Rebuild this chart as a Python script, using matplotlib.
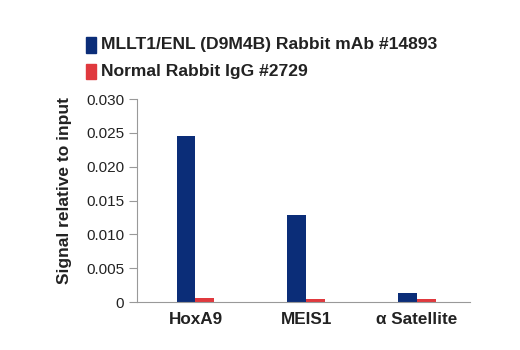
import numpy as np
import matplotlib
matplotlib.use("Agg")
from matplotlib import pyplot as plt
from matplotlib.patches import Rectangle

plt.rcParams['font.family'] = ['Liberation Sans', 'DejaVu Sans']

targets = ["HoxA9", "MEIS1", "\u03b1 Satellite"]
mllt1_values = [0.0245, 0.0129, 0.0014]
igg_values = [0.00055, 0.0005, 0.0004]
series_names = ["MLLT1/ENL (D9M4B) Rabbit mAb #14893", "Normal Rabbit IgG #2729"]
yticks = [0, 0.005, 0.010, 0.015, 0.020, 0.025, 0.030]
ytick_labels = ["0", "0.005", "0.010", "0.015", "0.020", "0.025", "0.030"]

blue = "#0b2d78"
red = "#e0393e"
gray = "#999999"

fig = plt.figure(figsize=(5.2, 3.5), dpi=100)
ax = fig.add_axes([0.263, 0.137, 0.641, 0.58])

x = np.arange(len(targets))
width = 0.17
ax.bar(x - width / 2, mllt1_values, width, color=blue)
ax.bar(x + width / 2, igg_values, width, color=red)

ax.set_xlim(-0.53, 2.48)
ax.set_ylim(0, 0.030)
ax.set_yticks(yticks)
ax.set_yticklabels(ytick_labels, fontsize=11, color="#222222")
ax.set_xticks(x)
ax.set_xticklabels(targets, fontsize=12.3, fontweight='bold', color="#222222")
ax.tick_params(axis='x', length=0, pad=7)
ax.tick_params(axis='y', length=6, width=0.8, color=gray, pad=3)
for side in ['top', 'right']:
    ax.spines[side].set_visible(False)
for side in ['left', 'bottom']:
    ax.spines[side].set_color(gray)
    ax.spines[side].set_linewidth(0.8)

ax.set_ylabel("Signal relative to input", fontsize=12.5, fontweight='bold', color="#222222")
ax.yaxis.set_label_coords(-0.195, 0.55)

# legend drawn at the top as coloured squares with text
for i, (name, col) in enumerate(zip(series_names, [blue, red])):
    y = 0.872 - i * 0.077
    fig.patches.append(Rectangle((0.166, y - 0.022), 0.018, 0.044, color=col,
                                 transform=fig.transFigure, figure=fig))
    fig.text(0.195, y, name, fontsize=12.6, fontweight='bold', color="#222222", va='center')

plt.savefig("out.png", dpi=100)
